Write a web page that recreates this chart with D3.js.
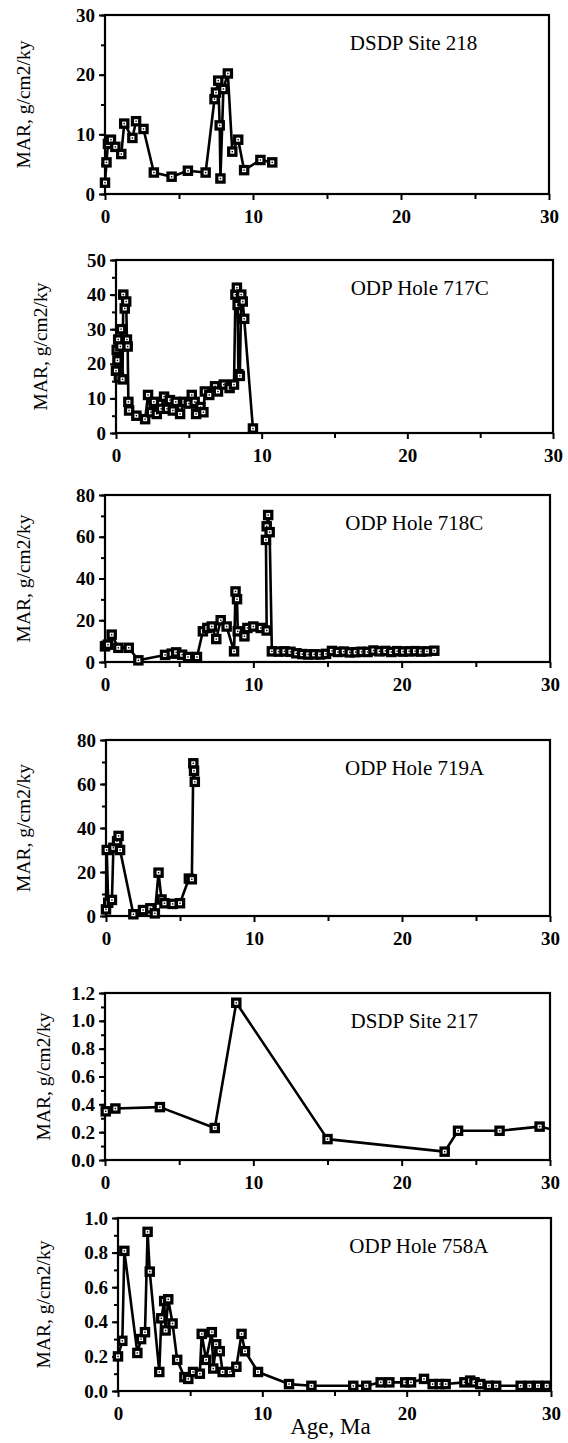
<!DOCTYPE html>
<html>
<head>
<meta charset="utf-8">
<script src="https://cdn.jsdelivr.net/npm/d3@7"></script>
<style>
  body { margin: 0; background: #fff; }
  svg { display: block; }
  text { font-family: "Liberation Serif", "Times New Roman", serif; fill: #000; }
</style>
</head>
<body>
<svg id="chart" width="568" height="1443"></svg>
<script>
// ---- data ----
let titles = ['DSDP Site 218', 'ODP Hole 717C', 'ODP Hole 718C', 'ODP Hole 719A', 'DSDP Site 217', 'ODP Hole 758A'];
let yLabel = 'MAR,  g/cm2/ky';
let xLabel = 'Age,  Ma';
let xTicks = [0, 10, 20, 30];
let xMinorTicks = [5, 15, 25];
let yMaxes = [30, 50, 80, 80, 1.2, 1.0];
let yTickSteps = [10, 10, 20, 20, 0.2, 0.2];
let yMinorSteps = [5, 5, 10, 10, 0.1, 0.1];

let site218Age = [0.0, 0.1, 0.2, 0.4, 0.7, 1.1, 1.3, 1.85, 2.1, 2.6, 3.3, 4.5, 5.6, 6.8, 7.4, 7.5, 7.65, 7.75, 7.8, 8.0, 8.3, 8.6, 9.0, 9.4, 10.5, 11.3];
let site218Mar = [1.9, 5.3, 8.4, 9.1, 7.9, 6.7, 11.8, 9.4, 12.2, 10.9, 3.6, 2.9, 3.9, 3.6, 15.9, 17.0, 19.0, 11.5, 2.6, 17.6, 20.2, 7.1, 9.1, 4.0, 5.7, 5.3];

let hole717Age = [0.0, 0.05, 0.1, 0.15, 0.2, 0.3, 0.35, 0.45, 0.5, 0.6, 0.7, 0.75, 0.8, 0.85, 0.9, 1.4, 2.0, 2.2, 2.4, 2.6,
    2.8, 3.1, 3.3, 3.5, 3.7, 3.9, 4.1, 4.4, 4.7, 5.0, 5.2, 5.4, 5.5, 5.8, 6.0, 6.1, 6.4, 6.8, 7.0, 7.4,
    7.8, 8.1, 8.2, 8.3, 8.35, 8.4, 8.5, 8.6, 8.7, 8.8, 9.4];
let hole717Mar = [18, 24, 21, 27, 16, 25, 30, 15.5, 40, 36, 38, 27, 25, 9, 6.5, 5, 4, 11, 6, 9,
    5.5, 7, 10.5, 7, 9.5, 6.5, 9, 5.5, 9, 8.5, 11, 9, 5.5, 7.5, 6, 12, 11, 13.5, 12, 14,
    13, 14, 40, 42, 37, 17, 16.5, 40, 38, 33, 1.3];

let hole718Age = [0.0, 0.2, 0.45, 0.9, 1.6, 2.25, 4.05, 4.5, 4.8, 5.2, 5.6, 6.2, 6.6, 6.9, 7.2, 7.5, 7.8, 8.2, 8.7, 8.8,
    8.9, 8.95, 9.4, 9.6, 10.0, 10.5, 10.9, 10.85, 10.9, 11.0, 11.1, 11.25,
    11.7, 12.1, 12.5, 12.9, 13.3, 13.7, 14.1, 14.5, 14.9, 15.3, 15.7, 16.1, 16.5, 16.9, 17.3, 17.7, 18.1, 18.5,
    18.9, 19.3, 19.7, 20.1, 20.5, 20.9, 21.3, 21.7, 22.2];
let hole718Mar = [7.5, 8.3, 13.1, 6.8, 6.8, 0.8, 3.4, 4.0, 4.6, 3.5, 2.4, 2.4, 14.7, 16.3, 17.0, 11.0, 20.0, 17.0, 5.1, 33.8,
    30.1, 14.7, 12.3, 16.3, 17.0, 16.3, 15.1, 58.5, 65.0, 70.4, 62.2, 5.1,
    5.0, 5.1, 4.9, 4.2, 3.8, 3.6, 3.7, 3.6, 3.9, 5.3, 4.8, 5.0, 4.6, 4.7, 4.9, 4.8, 5.5, 5.1,
    5.3, 4.8, 5.2, 5.0, 5.1, 5.2, 5.0, 5.1, 5.4];

let hole719Age = [0.0, 0.05, 0.15, 0.4, 0.5, 0.75, 0.85, 0.95, 1.85, 2.5, 3.0, 3.3, 3.55, 3.75, 3.95, 4.5, 5.0, 5.6, 5.8, 5.9, 5.95, 6.0];
let hole719Mar = [3.0, 30.0, 6.0, 7.3, 31.0, 34.0, 36.4, 30.0, 0.8, 2.7, 3.5, 1.2, 19.7, 7.5, 5.8, 5.5, 5.8, 17.0, 16.7, 69.4, 66.0, 61.0];

let site217Age = [0.05, 0.7, 3.7, 7.4, 8.85, 15.0, 22.9, 23.8, 26.6, 29.3, 30.5];
let site217Mar = [0.35, 0.37, 0.38, 0.23, 1.13, 0.15, 0.06, 0.21, 0.21, 0.24, 0.21];

let hole758Age = [0.0, 0.3, 0.44, 1.34, 1.6, 1.87, 2.05, 2.2, 2.86, 3.0, 3.2, 3.3, 3.48, 3.78, 4.1, 4.6, 4.87, 5.2, 5.67, 5.8,
    6.1, 6.5, 6.6, 6.8, 7.05, 7.25, 7.75, 8.2, 8.56, 8.8, 9.7, 11.85, 13.4, 16.3, 17.2, 18.2, 18.8, 19.9, 20.3, 21.2,
    21.8, 22.3, 22.7, 24.0, 24.4, 24.7, 25.1, 25.7, 26.2, 27.9, 28.5, 29.1, 29.7];
let hole758Mar = [0.20, 0.29, 0.81, 0.22, 0.30, 0.34, 0.92, 0.69, 0.11, 0.42, 0.52, 0.35, 0.53, 0.39, 0.18, 0.08, 0.07, 0.11, 0.10, 0.33,
    0.18, 0.34, 0.13, 0.27, 0.23, 0.11, 0.11, 0.14, 0.33, 0.23, 0.11, 0.04, 0.03, 0.03, 0.03, 0.05, 0.05, 0.05, 0.05, 0.07,
    0.04, 0.04, 0.04, 0.05, 0.06, 0.05, 0.04, 0.03, 0.03, 0.03, 0.03, 0.03, 0.03];

let seriesAges = [site218Age, hole717Age, hole718Age, hole719Age, site217Age, hole758Age];
let seriesMars = [site218Mar, hole717Mar, hole718Mar, hole719Mar, site217Mar, hole758Mar];

// ---- layout (pixel boxes of the six panels) ----
let boxes = [
    { left: 105, right: 549, top: 15, bottom: 194, labelX: 23 },
    { left: 116, right: 553, top: 260, bottom: 433, labelX: 40 },
    { left: 105, right: 550, top: 495, bottom: 662, labelX: 23 },
    { left: 106, right: 550, top: 740, bottom: 916, labelX: 23 },
    { left: 105, right: 550, top: 993, bottom: 1160, labelX: 43 },
    { left: 118, right: 551, top: 1218, bottom: 1391, labelX: 43 },
];
let lineWidth = 2.6;
let markerSize = 10.5;

let svg = d3.select('#chart');

function drawPanel(i) {
    let b = boxes[i];
    let x = d3.scaleLinear().domain([0, 30]).range([b.left, b.right]);
    let y = d3.scaleLinear().domain([0, yMaxes[i]]).range([b.bottom, b.top]);
    let g = svg.append('g');

    let yMajor = d3.range(0, yMaxes[i] + 1e-9, yTickSteps[i]);
    let yMinor = d3.range(0, yMaxes[i] + 1e-9, yMinorSteps[i]);
    let fmt = yMaxes[i] < 2 ? d3.format('.1f') : d3.format('d');

    // minor ticks first, then labelled ones
    g.append('g')
        .attr('transform', `translate(${b.left},0)`)
        .call(d3.axisLeft(y).tickValues(yMinor).tickSize(4).tickFormat(''))
        .call((a) => a.select('.domain').remove());
    let ya = g.append('g')
        .attr('transform', `translate(${b.left},0)`)
        .call(d3.axisLeft(y).tickValues(yMajor).tickSize(6).tickPadding(4).tickFormat(fmt));
    ya.select('.domain').remove();
    ya.selectAll('text').attr('font-size', '19px').attr('font-weight', 'bold')
        .style('font-family', '"Liberation Serif", serif');

    g.append('g')
        .attr('transform', `translate(0,${b.bottom})`)
        .call(d3.axisBottom(x).tickValues(xMinorTicks).tickSize(5).tickFormat(''))
        .call((a) => a.select('.domain').remove());
    let xa = g.append('g')
        .attr('transform', `translate(0,${b.bottom})`)
        .call(d3.axisBottom(x).tickValues(xTicks).tickSize(6).tickPadding(10).tickFormat(d3.format('d')));
    xa.select('.domain').remove();
    xa.selectAll('text').attr('font-size', '19px').attr('font-weight', 'bold')
        .style('font-family', '"Liberation Serif", serif');

    g.selectAll('.tick line').attr('stroke', '#000').attr('stroke-width', 2);

    // frame
    g.append('rect')
        .attr('x', b.left).attr('y', b.top)
        .attr('width', b.right - b.left).attr('height', b.bottom - b.top)
        .attr('fill', 'none').attr('stroke', '#000').attr('stroke-width', 2.2);

    // data, clipped to the frame
    let clipId = 'clip' + i;
    svg.append('clipPath').attr('id', clipId)
        .append('rect')
        .attr('x', b.left - 8).attr('y', b.top - 8)
        .attr('width', b.right - b.left + 8).attr('height', b.bottom - b.top + 16);

    let pts = seriesAges[i].map((a, k) => ({ age: a, mar: seriesMars[i][k] }));
    let plot = g.append('g').attr('clip-path', `url(#${clipId})`);

    plot.append('path')
        .datum(pts)
        .attr('fill', 'none')
        .attr('stroke', '#000')
        .attr('stroke-width', lineWidth)
        .attr('stroke-linejoin', 'round')
        .attr('d', d3.line().x((d) => x(d.age)).y((d) => y(d.mar)));

    let marks = plot.selectAll('g.mark')
        .data(pts)
        .enter()
        .append('g')
        .attr('class', 'mark')
        .attr('transform', (d) => `translate(${x(d.age)},${y(d.mar)})`);
    marks.append('rect')
        .attr('x', -markerSize / 2).attr('y', -markerSize / 2)
        .attr('width', markerSize).attr('height', markerSize)
        .attr('fill', '#000');
    marks.append('rect')
        .attr('x', -2).attr('y', -2).attr('width', 4).attr('height', 4)
        .attr('fill', '#fff');
    marks.append('rect')
        .attr('x', -0.7).attr('y', -0.7).attr('width', 1.4).attr('height', 1.4)
        .attr('fill', '#000');

    // panel title
    g.append('text')
        .attr('x', b.left + (b.right - b.left) * 0.695)
        .attr('y', b.top + 35)
        .attr('text-anchor', 'middle')
        .attr('font-size', '21px')
        .text(titles[i]);

    // y label
    g.append('text')
        .attr('transform', `translate(${b.labelX},${(b.top + b.bottom) / 2}) rotate(-90)`)
        .attr('text-anchor', 'middle')
        .attr('dy', '0.35em')
        .attr('font-size', '19.5px')
        .text(yLabel);

    if (i == boxes.length - 1) {
        svg.append('text')
            .attr('x', (b.left + b.right) / 2 - 4)
            .attr('y', b.bottom + 43)
            .attr('text-anchor', 'middle')
            .attr('font-size', '23px')
            .text(xLabel);
    }
}

for (let i = 0; i < boxes.length; i++) drawPanel(i);
</script>
</body>
</html>
